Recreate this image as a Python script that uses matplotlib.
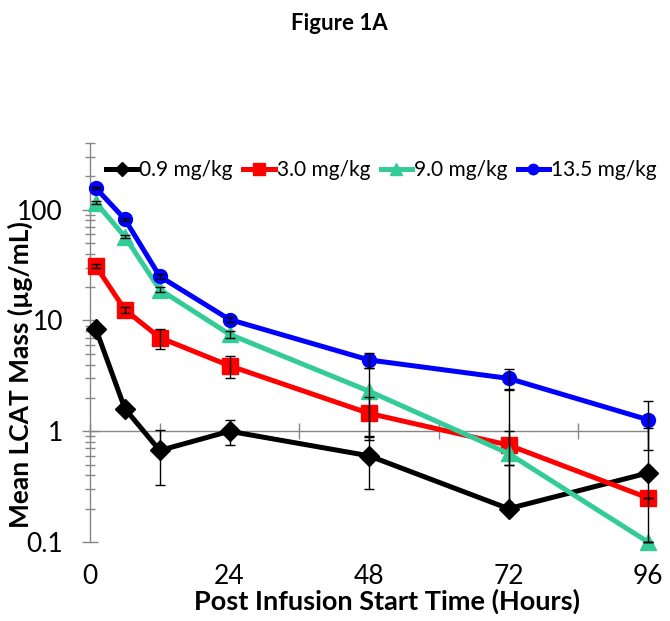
import numpy as np
import matplotlib
matplotlib.use("Agg")
import matplotlib.pyplot as plt
from matplotlib.ticker import LogLocator, FixedLocator, NullFormatter, NullLocator

plt.rcParams['font.family'] = ['Lato', 'DejaVu Sans']

hours = [1, 6, 12, 24, 48, 72, 96]
series_labels = ["0.9 mg/kg", "3.0 mg/kg", "9.0 mg/kg", "13.5 mg/kg"]

mean_09 = [8.4, 1.6, 0.67, 1.0, 0.6, 0.2, 0.42]
mean_30 = [31, 12.5, 7.0, 3.9, 1.45, 0.75, 0.25]
mean_90 = [116, 57, 19, 7.5, 2.3, 0.63, 0.1]
mean_135 = [157, 82, 25, 10.2, 4.4, 3.0, 1.27]

err_lo_09 = [0.5, 0.15, 0.34, 0.25, 0.3, 0.0, 0.32]
err_hi_09 = [0.5, 0.15, 0.36, 0.27, 0.3, 0.3, 0.64]
err_lo_30 = [1.5, 0.8, 1.45, 0.9, 0.57, 0.25, 0.0]
err_hi_30 = [1.5, 0.8, 1.45, 0.9, 0.57, 0.25, 0.0]
err_lo_90 = [3.0, 2.0, 1.0, 0.5, 1.46, 0.43, 0.0]
err_hi_90 = [3.0, 2.0, 1.0, 0.5, 1.46, 1.8, 0.0]
err_lo_135 = [4.0, 2.5, 1.2, 0.5, 0.7, 0.63, 0.6]
err_hi_135 = [4.0, 2.5, 1.2, 0.5, 0.7, 0.63, 0.6]

x_tick_values = [0, 24, 48, 72, 96]
x_tick_labels = ["0", "24", "48", "72", "96"]
y_tick_values = [0.1, 1, 10, 100]
y_tick_labels = ["0.1", "1", "10", "100"]

colors = ["#000000", "#FF0000", "#33CC99", "#0000FF"]
markers = ["D", "s", "^", "o"]
msizes = [10, 12, 12, 10]

fig = plt.figure(figsize=(6.70, 6.21), dpi=100)
ax = fig.add_axes([90/670, 1-542/621, (648-90)/670, (542-143)/621])
ax.set_yscale('log')
ax.set_xlim(0, 96)
ax.set_ylim(0.1, 400)

means = [mean_09, mean_30, mean_90, mean_135]
lows = [err_lo_09, err_lo_30, err_lo_90, err_lo_135]
highs = [err_hi_09, err_hi_30, err_hi_90, err_hi_135]

handles = []
for m, lo, hi, c, mk, ms, lab in zip(means, lows, highs, colors, markers, msizes, series_labels):
    h, = ax.plot(hours, m, color=c, marker=mk, markersize=ms, lw=3.6,
                 label=lab, clip_on=False, zorder=3)
    handles.append(h)
    ax.errorbar(hours, m, yerr=[lo, hi], fmt='none', ecolor='black',
                elinewidth=1, capsize=3.5, capthick=1, zorder=4, clip_on=False)

# y axis styling
grey = '#868686'
for s in ['top', 'right', 'bottom']:
    ax.spines[s].set_visible(False)
ax.spines['left'].set_color(grey)
ax.spines['left'].set_linewidth(1)
ax.yaxis.set_major_locator(FixedLocator(y_tick_values))
ax.set_yticklabels(y_tick_labels)
ax.yaxis.set_minor_locator(LogLocator(base=10, subs=np.arange(2, 10)))
ax.yaxis.set_minor_formatter(NullFormatter())
ax.tick_params(axis='y', which='major', direction='inout', length=11, width=1,
               color=grey, labelsize=19, pad=14)
ax.tick_params(axis='y', which='minor', direction='inout', length=7, width=1, color=grey)

# x tick labels at bottom, no marks
ax.xaxis.set_major_locator(FixedLocator(x_tick_values))
ax.set_xticklabels(x_tick_labels)
ax.xaxis.set_minor_locator(NullLocator())
ax.tick_params(axis='x', which='major', length=0, labelsize=19, pad=16)

# horizontal axis crossing at y = 1
loc = (np.log10(1) - np.log10(0.1)) / (np.log10(400) - np.log10(0.1))
sec = ax.secondary_xaxis(loc)
sec.xaxis.set_major_locator(FixedLocator(np.arange(0, 97, 12)))
sec.tick_params(axis='x', direction='inout', length=11, width=1, color=grey, labelbottom=False)
sec.spines['bottom'].set_color(grey)
sec.spines['bottom'].set_linewidth(1)
sec.set_zorder(1)

ax.set_xlabel("Post Infusion Start Time (Hours)", fontsize=19.5, fontweight='bold', va='center')
ax.xaxis.set_label_coords(0.532, -0.148)
ax.set_ylabel("Mean LCAT Mass (µg/mL)", fontsize=19, fontweight='bold', va='center')
ax.yaxis.set_label_coords(-0.125, 0.42)

fig.text(0.506, 1-24/621, "Figure 1A", ha='center', va='center', fontsize=16, fontweight='bold')

fig.legend(handles=handles, labels=series_labels, loc='center left',
           bbox_to_anchor=(106/670, 1-170/621), ncol=4, frameon=False,
           fontsize=15, handlelength=1.5, handletextpad=0.1, columnspacing=0.5,
           borderpad=0, borderaxespad=0, markerscale=0.75)

fig.savefig("out.png", dpi=100)
